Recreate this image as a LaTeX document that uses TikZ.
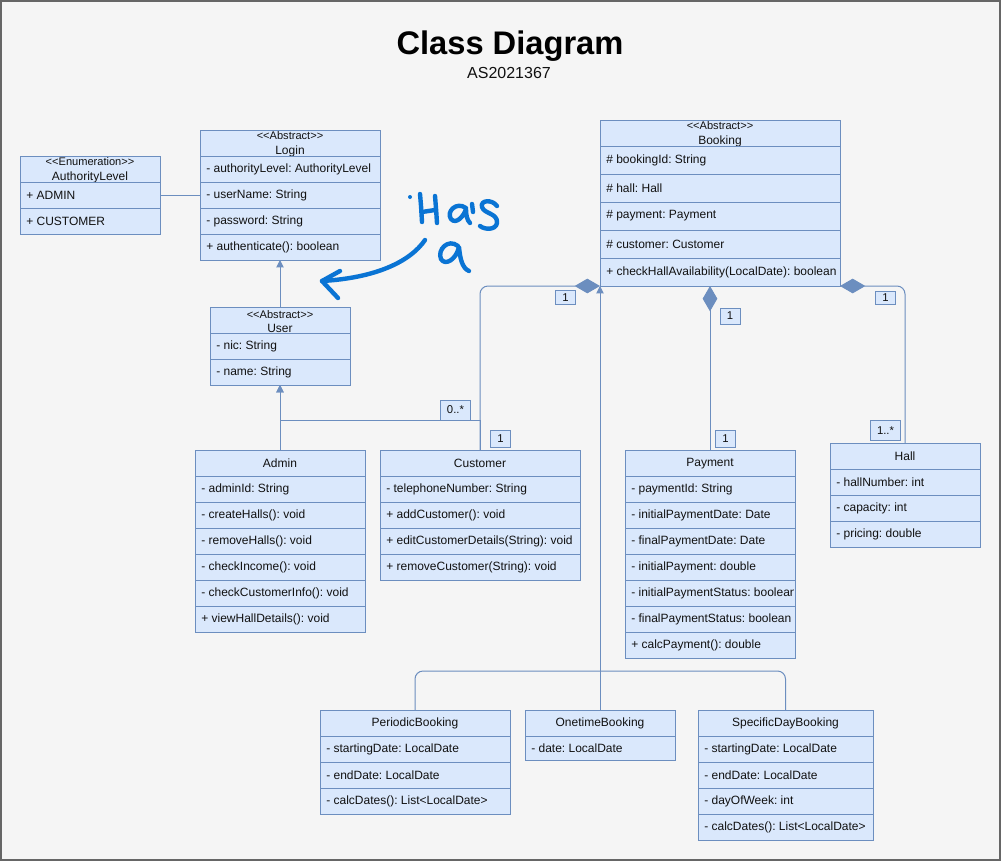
\documentclass[tikz,border=0pt]{standalone}
\usepackage{fontspec}
\setmainfont{Liberation Sans}
\usetikzlibrary{arrows.meta}
\definecolor{bg}{HTML}{F5F5F5}
\definecolor{framec}{HTML}{666666}
\definecolor{cfill}{HTML}{DAE8FC}
\definecolor{cline}{HTML}{6C8EBF}
\definecolor{handc}{HTML}{0A74D4}
\definecolor{txt}{HTML}{111111}
\tikzset{
  classbox/.style={draw=cline, fill=cfill, line width=0.75pt, anchor=north west, inner sep=0pt, outer sep=0pt},
  headtext/.style={inner sep=0pt, align=center, text=txt, font=\frenchspacing\fontsize{9}{11}\selectfont},
  rowtext/.style={inner sep=0pt, anchor=west, text=txt, font=\frenchspacing\fontsize{9}{11}\selectfont},
  sepline/.style={draw=cline, line width=0.75pt},
  conn/.style={draw=cline, line width=0.75pt},
  inh/.style={conn, -{Triangle[length=5.5pt, width=5.5pt]}},
  comp/.style={conn, {Diamond[length=19pt, width=11pt]}-},
  mult/.style={draw=cline, fill=cfill, line width=0.75pt, text=txt, font=\fontsize{8.5}{10}\selectfont, inner sep=0pt},
  handline/.style={draw=handc, line width=3.3pt, line cap=round, line join=round},
}
\newcommand\stereo[1]{{\fontsize{8.3}{10}\selectfont <\kern0pt<#1>\kern0pt>}}
% #1 name, #2 x, #3 y, #4 width, #5 rows, #6 row height, #7 header, #8 rows, #9 header centre offset
\newcommand\umlclass[9]{%
  \node[classbox, minimum width=#4*0.75pt, minimum height=(26+#5*#6)*0.75pt] (#1) at (#2,#3) {};
  \node[headtext] at (#2+#4/2,#3+#9) {#7};
  \foreach \t [count=\i from 0] in {#8} {
    \draw[sepline] (#2,#3+26+\i*#6) -- ++(#4,0);
    \begin{scope}
      \clip (#2,#3+26+\i*#6) rectangle ++(#4-2,#6);
      \node[rowtext] at (#2+6,#3+26+\i*#6+#6/2) {\t};
    \end{scope}
  }
}
\begin{document}
\frenchspacing
\begin{tikzpicture}[x=0.75pt, y=-0.75pt]
\useasboundingbox (0,0) rectangle (1001,861);
\fill[bg] (0,0) rectangle (1001,861);
\draw[framec, line width=1.5pt] (1,1) rectangle (1000,860);

% title
\node[font=\bfseries\fontsize{24.5}{28}\selectfont, text=black] (title) at (510,46) {Class Diagram};
\node[font=\fontsize{12}{14}\selectfont, text=txt] (subtitle) at (509,73) {AS2021367};

% classes
\umlclass{auth}{20}{156}{140}{2}{26}{\stereo{Enumeration}\\AuthorityLevel}{+ ADMIN, + CUSTOMER}{14.5}
\umlclass{login}{200}{130}{180}{4}{26}{\stereo{Abstract}\\Login}{- authorityLevel: AuthorityLevel, - userName: String, - password: String, + authenticate(): boolean}{14.5}
\umlclass{user}{210}{307}{140}{2}{26}{\stereo{Abstract}\\User}{- nic: String, - name: String}{14.5}
\umlclass{booking}{600}{120}{240}{5}{28}{\stereo{Abstract}\\Booking}{\# bookingId: String, \# hall: Hall, \# payment: Payment, \# customer: Customer, + checkHallAvailability(LocalDate): boolean}{14.5}
\umlclass{admin}{195}{450}{170}{6}{26}{Admin}{- adminId: String, - createHalls(): void, - removeHalls(): void, - checkIncome(): void, - checkCustomerInfo(): void, + viewHallDetails(): void}{13.5}
\umlclass{customer}{380}{450}{200}{4}{26}{Customer}{- telephoneNumber: String, + addCustomer(): void, + editCustomerDetails(String): void, + removeCustomer(String): void}{13.5}
\umlclass{payment}{625}{450}{170}{7}{26}{Payment}{- paymentId: String, - initialPaymentDate: Date, - finalPaymentDate: Date, - initialPayment: double, - initialPaymentStatus: boolean, - finalPaymentStatus: boolean, + calcPayment(): double}{13.5}
\umlclass{hall}{830}{443}{150}{3}{26}{Hall}{- hallNumber: int, - capacity: int, - pricing: double}{13.5}
\umlclass{periodic}{320}{710}{190}{3}{26}{PeriodicBooking}{- startingDate: LocalDate, - endDate: LocalDate, - calcDates(): List<LocalDate>}{13.5}
\umlclass{onetime}{525}{710}{150}{1}{24}{OnetimeBooking}{- date: LocalDate}{13.5}
\umlclass{specific}{698}{710}{175}{4}{26}{SpecificDayBooking}{- startingDate: LocalDate, - endDate: LocalDate, - dayOfWeek: int, - calcDates(): List<LocalDate>}{13.5}

% connectors
\draw[conn] (auth.east) -- (auth.east -| login.west);
\draw[inh] (user.north) -- (user.north |- login.south);
\draw[inh] (admin.north) -- (user.south);
\coordinate (custjoin) at (480,420);
\draw[inh] (customer.north) -- (custjoin) -| (user.south);
\draw[comp, rounded corners=6pt] (booking.south west) -- (customer.north |- booking.south) -- (customer.north);
\draw[comp] (booking.south -| payment.north) -- (payment.north);
\draw[comp, rounded corners=6pt] (booking.south east) -- (hall.north |- booking.south) -- (hall.north);
\coordinate (bus) at (600,671);
\draw[inh] (onetime.north) -- (onetime.north |- booking.south);
\draw[conn, rounded corners=6pt] (periodic.north) |- (bus) -| (specific.north);

% multiplicities
\node[mult, minimum width=20*0.75pt, minimum height=14*0.75pt] (m1) at (565.5,297.5) {1};
\node[mult, minimum width=30*0.75pt, minimum height=20*0.75pt] (m2) at (455.5,410) {0..*};
\node[mult, minimum width=20*0.75pt, minimum height=17*0.75pt] (m3) at (500.5,438.5) {1};
\node[mult, minimum width=20*0.75pt, minimum height=16*0.75pt] (m4) at (730,316) {1};
\node[mult, minimum width=20*0.75pt, minimum height=17*0.75pt] (m5) at (725.5,439) {1};
\node[mult, minimum width=20*0.75pt, minimum height=13*0.75pt] (m6) at (885.5,297.5) {1};
\node[mult, minimum width=30*0.75pt, minimum height=20*0.75pt] (m7) at (885.5,430.5) {1..*};

% handwritten annotation "Has a"
\fill[handc] (410,197) circle (2);
\draw[handline] (420,194) .. controls (421,205) .. (422,222);
\draw[handline] (435,196) .. controls (436,208) .. (437,223);
\draw[handline] (422,212) -- (435,210);
\draw[handline] (466,208) .. controls (456,201) and (446,212) .. (451,219) .. controls (456,225) and (464,216) .. (466,209) .. controls (466,215) and (467,220) .. (470,223);
\draw[handline] (472,204) -- (473,212);
\draw[handline] (497,206) .. controls (492,199) and (480,200) .. (482,207) .. controls (484,214) and (498,213) .. (497,223) .. controls (496,230) and (485,230) .. (480,226);
\draw[handline] (458,246) .. controls (448,238) and (437,250) .. (441,259) .. controls (445,266) and (456,260) .. (459,247) .. controls (460,258) and (462,268) .. (469,271);
\draw[handline] (425,240) .. controls (410,262) and (375,278) .. (322,281);
\draw[handline] (340,271) -- (322,281) -- (338,298);
\end{tikzpicture}
\end{document}
